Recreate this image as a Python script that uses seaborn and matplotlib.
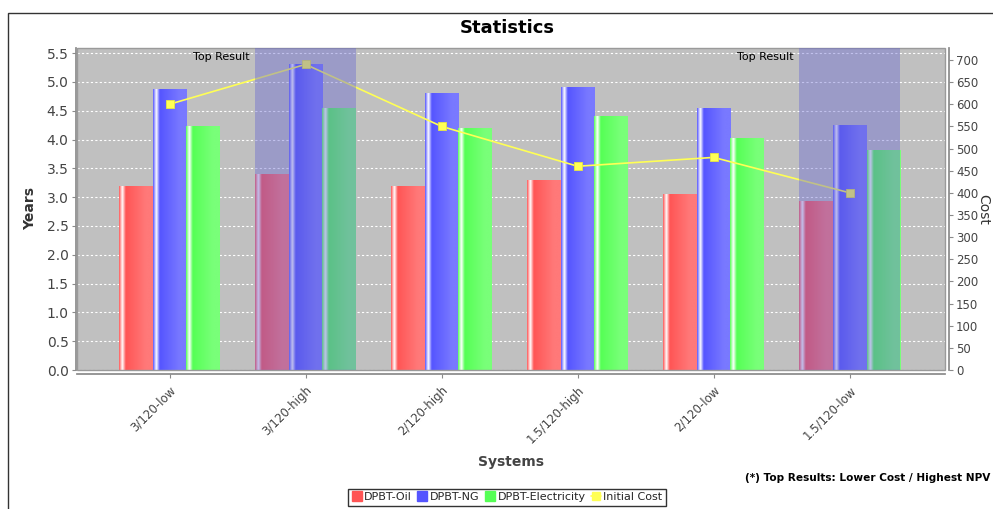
import numpy as np
import pandas as pd
import matplotlib
matplotlib.use("Agg")
import matplotlib.pyplot as plt
from matplotlib.patches import Rectangle
from matplotlib.lines import Line2D
import seaborn as sns

# ---- data ----
systems = ["3/120-low", "3/120-high", "2/120-high", "1.5/120-high", "2/120-low", "1.5/120-low"]
dpbt_oil = [3.2, 3.4, 3.2, 3.3, 3.06, 2.93]
dpbt_ng = [4.88, 5.31, 4.81, 4.91, 4.54, 4.25]
dpbt_elec = [4.24, 4.54, 4.2, 4.41, 4.02, 3.82]
initial_cost = [600, 690, 550, 460, 480, 400]
series_names = ["DPBT-Oil", "DPBT-NG", "DPBT-Electricity"]
top_results = ["3/120-high", "1.5/120-low"]
left_ticks = [0.0, 0.5, 1.0, 1.5, 2.0, 2.5, 3.0, 3.5, 4.0, 4.5, 5.0, 5.5]
right_ticks = list(range(0, 701, 50))

sns.set_theme(style="white")
plt.rcParams["font.family"] = ["DejaVu Sans"]

base_colors = [(255, 85, 85), (85, 85, 255), (85, 255, 85)]
line_color = "#FFFF55"
plot_bg = "#C0C0C0"
tick_col = "#444444"
axis_col = "#8a8a8a"


def brighter(c):
    return tuple(min(int(v / 0.7), 255) for v in c)


def bar_gradient(c, n=240):
    c0 = np.array(c, float) / 255
    c1 = np.array(brighter(c), float) / 255
    w = np.ones(3)
    t = np.linspace(0, 1, n)
    out = np.zeros((n, 3))
    for i, v in enumerate(t):
        if v < 0.1:
            out[i] = c0 + (w - c0) * (v / 0.1)
        elif v < 0.2:
            out[i] = w + (c0 - w) * ((v - 0.1) / 0.1)
        elif v < 0.8:
            out[i] = c0 + (c1 - c0) * ((v - 0.2) / 0.6)
        else:
            out[i] = c1
    return out[np.newaxis, :, :]


df = pd.DataFrame({
    "system": np.repeat(systems, 3),
    "series": series_names * len(systems),
    "years": np.ravel(np.column_stack([dpbt_oil, dpbt_ng, dpbt_elec])),
})

fig = plt.figure(figsize=(9.93, 5.09), dpi=100)
W, H = 993, 509
ax = fig.add_axes([77 / W, 1 - 370 / H, (945 - 77) / W, (370 - 48) / H])
ax.set_facecolor(plot_bg)

palette = ["#%02X%02X%02X" % c for c in base_colors]
sns.barplot(data=df, x="system", y="years", hue="series", order=systems,
            hue_order=series_names, palette=palette, width=0.74, gap=0,
            saturation=1, legend=False, ax=ax, zorder=2, linewidth=0)

# horizontal gradient shading on each bar
for k, cont in enumerate(ax.containers):
    grad = bar_gradient(base_colors[k])
    for p in cont.patches:
        x0, w, h = p.get_x(), p.get_width(), p.get_height()
        im = ax.imshow(grad, extent=[x0, x0 + w, 0, h], aspect="auto",
                       interpolation="bilinear", zorder=3)
        im.set_clip_path(p)

ax.set_ylim(0, 5.59)
ax.set_yticks(left_ticks)
ax.set_yticklabels([f"{v:.1f}" for v in left_ticks])
ax.yaxis.grid(True, color="white", linestyle=(0, (2, 2)), linewidth=0.8)
ax.xaxis.grid(False)
ax.set_axisbelow(True)

ax.set_xlabel("Systems", fontsize=10, fontweight="bold", color="#444444")
ax.xaxis.set_label_coords(0.5, (370 - 455) / 322)
ax.set_ylabel("Years", fontsize=10, fontweight="bold", color="#333333")
ax.yaxis.set_label_coords((37 - 77) / 868, 0.5)
ax.tick_params(axis="y", colors=axis_col, labelcolor=tick_col, labelsize=10,
               length=3, width=0.8, pad=2, left=True)

for s in ["top", "right"]:
    ax.spines[s].set_visible(False)
ax.spines["left"].set_color(axis_col)
ax.spines["bottom"].set_color(axis_col)
ax.spines["bottom"].set_position(("outward", 3))
ax.spines["left"].set_position(("outward", 1))
ax.add_patch(Rectangle((0, 0), 1, 1, transform=ax.transAxes, fill=False,
                       edgecolor="#9a9a9a", linewidth=1, zorder=20, clip_on=False))

# initial cost on the secondary axis
ax2 = ax.twinx()
sns.lineplot(x=np.arange(len(systems)), y=initial_cost, ax=ax2, sort=False,
             color=line_color, linewidth=1.2, marker="s", markersize=6,
             markerfacecolor=line_color, markeredgecolor="#E8E840",
             markeredgewidth=0.6, zorder=5)
ax2.set_ylim(0, 727)
ax2.set_yticks(right_ticks)
ax2.set_yticklabels([str(v) for v in right_ticks])
ax2.grid(False)
ax2.tick_params(axis="y", colors=axis_col, labelcolor=tick_col, labelsize=8.5,
                length=3, width=0.8, pad=2, right=True)
ax2.set_ylabel("Cost", fontsize=10, color="#333333", rotation=270, va="center")
ax2.yaxis.set_label_coords((983 - 77) / 868, 0.5)
for s in ["top", "left", "bottom"]:
    ax2.spines[s].set_visible(False)
ax2.spines["right"].set_color(axis_col)
ax2.spines["right"].set_position(("outward", 3))

# category axis: ticks and rotated labels
ax.set_xlim(-0.68, 5.7)
ax.set_xticks(range(len(systems)))
ax.set_xticklabels(systems)
ax.tick_params(axis="x", colors=axis_col, labelcolor=tick_col, labelsize=8.5,
               length=3, width=0.8, pad=4, bottom=True, labelrotation=45)
plt.setp(ax.get_xticklabels(), ha="right", rotation_mode="anchor")

# highlighted top results
for name in top_results:
    i = systems.index(name)
    ax2.axvspan(i - 0.37, i + 0.37, color=(100 / 255, 100 / 255, 210 / 255),
                alpha=0.4, lw=0, zorder=10)
    ax2.text(i - 0.41, 0.972, "Top Result", transform=ax2.get_xaxis_transform(),
             ha="right", va="center", fontsize=8, color="black", zorder=12)

fig.text(507 / W, 1 - 28 / H, "Statistics", ha="center", va="center",
         fontsize=13, fontweight="bold", color="black")
fig.text(990 / W, 1 - 478 / H, "(*) Top Results: Lower Cost / Highest NPV",
         ha="right", va="center", fontsize=7.6, fontweight="bold", color="black")

# outer panel border
fig.patches.append(Rectangle((8 / W, -0.2), 1.2, 1.2 - 13 / H,
                             transform=fig.transFigure, fill=False,
                             edgecolor="#333333", linewidth=1))

handles = [Line2D([], [], linestyle="none", marker="s", markersize=6.5,
                  markerfacecolor=c, markeredgecolor=c) for c in palette]
handles.append(Line2D([], [], color=line_color, linewidth=1.2, marker="s",
                      markersize=5.5, markerfacecolor=line_color,
                      markeredgecolor=line_color))
leg = fig.legend(handles, series_names + ["Initial Cost"], loc="upper center",
                 bbox_to_anchor=(507 / W, 1 - 489 / H), ncol=4, frameon=True,
                 fancybox=False, fontsize=8, handlelength=0.9,
                 handletextpad=0.25, columnspacing=0.45, borderpad=0.3,
                 borderaxespad=0)
leg.get_frame().set_edgecolor("black")
leg.get_frame().set_linewidth(1)

fig.savefig("out.png", dpi=100, facecolor="white")
